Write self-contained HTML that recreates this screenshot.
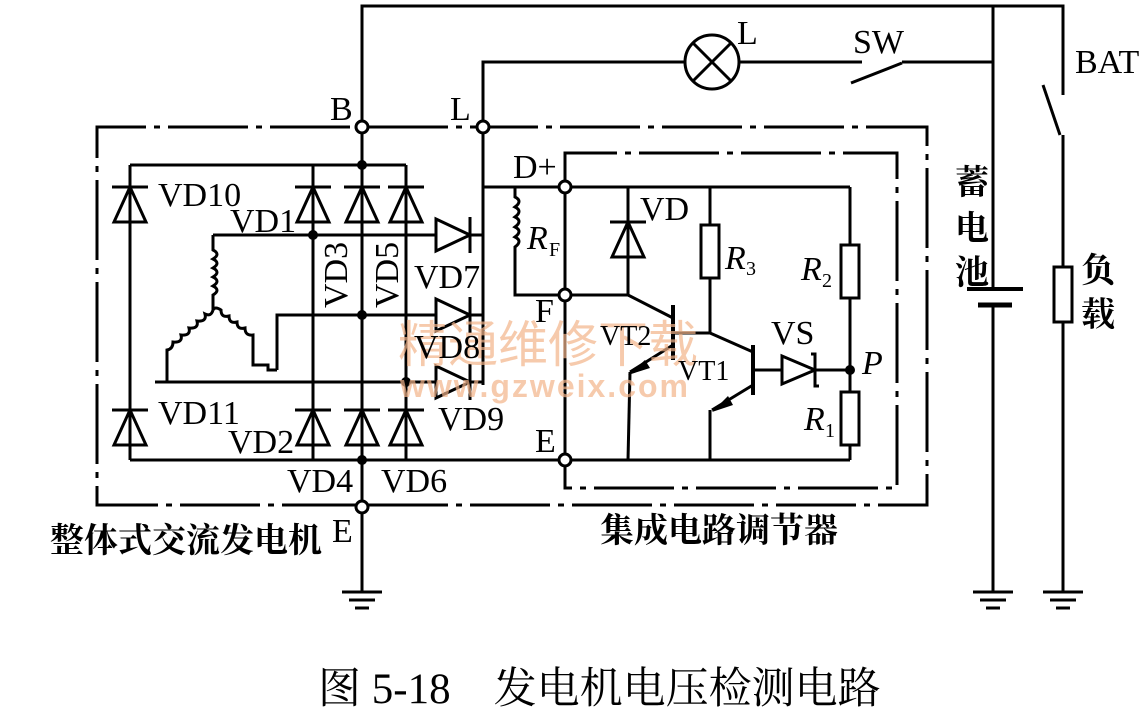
<!DOCTYPE html>
<html><head><meta charset="utf-8"><style>
html,body{margin:0;padding:0;background:#fff}
svg{display:block}
text{font-family:"Liberation Serif","Noto Serif CJK SC",serif;fill:#000}
.cj{font-family:"Liberation Sans","Noto Sans CJK SC",sans-serif;font-weight:bold}
</style></head><body>
<svg width="1139" height="715" viewBox="0 0 1139 715" xmlns="http://www.w3.org/2000/svg">
<defs>
<g id="du" fill="none" stroke="#000" stroke-width="3"><line x1="-18" y1="0" x2="18" y2="0"/><polygon points="0,0 -16,35 16,35"/></g>
<g id="dr" fill="none" stroke="#000" stroke-width="3"><line x1="0" y1="-18" x2="0" y2="18"/><polygon points="0,0 -34,-16 -34,16"/></g>
</defs>
<g fill="none" stroke="#000" stroke-width="3">
<polyline points="362,127 362,6 1063,6 1063,95"/>
<line x1="993" y1="6" x2="993" y2="289"/>
<line x1="993" y1="305" x2="993" y2="592"/>
<line x1="1043" y1="85" x2="1060" y2="135"/>
<line x1="1063" y1="135" x2="1063" y2="267"/>
<rect x="1054" y="267" width="18" height="55"/>
<line x1="1063" y1="322" x2="1063" y2="592"/>
<line x1="967" y1="289" x2="1023" y2="289" stroke-width="4"/>
<line x1="978" y1="305" x2="1012" y2="305" stroke-width="5"/>
<polyline points="483,127 483,62 685,62"/>
<circle cx="712" cy="62" r="27"/>
<line x1="693" y1="43" x2="731" y2="81"/><line x1="731" y1="43" x2="693" y2="81"/>
<line x1="739" y1="62" x2="862" y2="62"/>
<line x1="851" y1="83" x2="902" y2="63"/>
<line x1="902" y1="62" x2="993" y2="62"/>
<line x1="973" y1="592" x2="1013" y2="592"/><line x1="980" y1="600" x2="1006" y2="600"/><line x1="986" y1="608" x2="1000" y2="608"/>
<line x1="1043" y1="592" x2="1083" y2="592"/><line x1="1050" y1="600" x2="1076" y2="600"/><line x1="1056" y1="608" x2="1070" y2="608"/>
<line x1="342" y1="592" x2="382" y2="592"/><line x1="349" y1="600" x2="375" y2="600"/><line x1="355" y1="608" x2="369" y2="608"/>
<line x1="362" y1="513" x2="362" y2="592"/>
<g stroke-dasharray="80,8,6,8">
<polyline points="350,127 97,127 97,505 356,505"/>
<polyline points="368,505 927,505 927,127 489,127"/>
<line x1="368" y1="127" x2="477" y2="127"/>
<polyline points="565,181 565,153 897,153 897,488 565,488 565,466"/>
</g>
<line x1="130" y1="165" x2="406" y2="165"/>
<line x1="130" y1="460" x2="559" y2="460"/>
<line x1="362" y1="133" x2="362" y2="501"/>
<line x1="130" y1="165" x2="130" y2="460"/>
<line x1="313" y1="165" x2="313" y2="460"/>
<line x1="406" y1="165" x2="406" y2="460"/>
<polyline points="213,235 435,235"/><line x1="470" y1="235" x2="483" y2="235"/>
<polyline points="277,370 277,315 435,315"/><line x1="470" y1="315" x2="483" y2="315"/>
<polyline points="155,382 435,382"/><line x1="470" y1="382" x2="483" y2="382"/>
<line x1="483" y1="133" x2="483" y2="385"/>
<line x1="483" y1="187" x2="559" y2="187"/>
<path d="M213,235 V250 q8,4 0,9 q8,4 0,9 q8,4 0,9 q8,4 0,9 q8,4 0,9 V310"/>
<path d="M213,310 q-2,7 -8,4 q2,8 -8,7 q2,8 -8,7 q2,8 -8,7 q2,8 -8,7 q0,7 -6,8 V382"/>
<path d="M213,310 q2,-4 8,0 q0,8 8,6 q0,8 8,6 q0,8 8,6 q0,8 8,7 V365 H268 V370 H277"/>
<line x1="565" y1="193" x2="565" y2="289"/><line x1="565" y1="301" x2="565" y2="454"/>
<line x1="571" y1="187" x2="850" y2="187"/>
<path d="M515,187 V197 q8,4 0,10 q8,4 0,10 q8,4 0,10 q8,4 0,10 q8,4 0,10 V295 H559"/>
<line x1="571" y1="295" x2="628" y2="295"/>
<line x1="628" y1="187" x2="628" y2="295"/>
<line x1="710" y1="187" x2="710" y2="225"/><rect x="701" y="225" width="18" height="53"/>
<line x1="710" y1="278" x2="710" y2="333"/>
<line x1="850" y1="187" x2="850" y2="245"/><rect x="841" y="245" width="18" height="53"/>
<line x1="850" y1="298" x2="850" y2="392"/><rect x="841" y="392" width="18" height="53"/>
<line x1="850" y1="445" x2="850" y2="460"/>
<line x1="571" y1="460" x2="850" y2="460"/>
<line x1="673" y1="305" x2="673" y2="360" stroke-width="4"/>
<line x1="628" y1="295" x2="673" y2="318"/>
<line x1="673" y1="345" x2="630" y2="372"/>
<line x1="630" y1="372" x2="628" y2="460"/>
<line x1="673" y1="333" x2="710" y2="333"/>
<line x1="710" y1="333" x2="753" y2="352"/>
<line x1="753" y1="345" x2="753" y2="395" stroke-width="4"/>
<line x1="753" y1="385" x2="712" y2="410"/>
<line x1="710" y1="410" x2="710" y2="460"/>
<line x1="753" y1="370" x2="782" y2="370"/>
<line x1="815" y1="370" x2="850" y2="370"/>
<polyline points="811,354 815,354 815,386 819,386"/>
<polygon points="782,356 815,370 782,384"/>
</g>
<use href="#du" x="130" y="187"/><use href="#du" x="313" y="187"/><use href="#du" x="362" y="187"/><use href="#du" x="406" y="187"/>
<use href="#du" x="130" y="410"/><use href="#du" x="313" y="410"/><use href="#du" x="362" y="410"/><use href="#du" x="406" y="410"/>
<use href="#du" x="628" y="222"/>
<use href="#dr" x="470" y="235"/><use href="#dr" x="470" y="315"/><use href="#dr" x="470" y="382"/>
<g fill="#000">
<polygon points="628,375 645,360 650,368"/>
<polygon points="712,412 728,396 733,405"/>
<circle cx="362" cy="165" r="5"/><circle cx="313" cy="235" r="5"/><circle cx="362" cy="315" r="5"/>
<circle cx="406" cy="382" r="5"/><circle cx="362" cy="460" r="5"/><circle cx="850" cy="370" r="5"/>
</g>
<g fill="#fff" stroke="#000" stroke-width="3">
<circle cx="362" cy="127" r="6"/><circle cx="483" cy="127" r="6"/><circle cx="362" cy="507" r="6"/>
<circle cx="565" cy="187" r="6"/><circle cx="565" cy="295" r="6"/><circle cx="565" cy="460" r="6"/>
</g>
<text x="398" y="362" font-size="50" class="cj" style="fill:#f3b48a;opacity:.7;font-weight:normal">精通维修下载</text>
<text x="400" y="397" font-size="32" style="fill:#f3b48a;opacity:.7;font-family:'Liberation Sans',sans-serif;font-weight:bold;letter-spacing:2px">www.gzweix.com</text>
<g font-size="34">
<text x="330" y="120">B</text><text x="450" y="120">L</text>
<text x="737" y="44">L</text><text x="853" y="53">SW</text><text x="1075" y="73">BAT</text>
<text x="158" y="206">VD10</text><text x="230" y="232">VD1</text>
<text x="158" y="424">VD11</text><text x="228" y="453">VD2</text>
<text x="287" y="492">VD4</text><text x="381" y="492">VD6</text>
<text x="414" y="288">VD7</text><text x="414" y="358">VD8</text><text x="438" y="430">VD9</text>
<text transform="translate(347,308) rotate(-90)">VD3</text>
<text transform="translate(398,308) rotate(-90)">VD5</text>
<text x="513" y="178">D+</text><text x="640" y="220">VD</text>
<text x="527" y="249" font-style="italic">R</text><text x="549" y="256" font-size="20">F</text>
<text x="725" y="269" font-style="italic">R</text><text x="746" y="275" font-size="20">3</text>
<text x="801" y="280" font-style="italic">R</text><text x="822" y="287" font-size="20">2</text>
<text x="804" y="430" font-style="italic">R</text><text x="825" y="437" font-size="20">1</text>
<text x="862" y="374" font-style="italic">P</text>
<text x="535" y="322">F</text><text x="535" y="452">E</text>
<text x="771" y="344">VS</text>
<text x="600" y="345" font-size="28">VT2</text><text x="678" y="380" font-size="28">VT1</text>
<text x="332" y="542">E</text>
</g>
<g class="cj" font-size="34">
<text x="50" y="552">整体式交流发电机</text>
<text x="600" y="542">集成电路调节器</text>
<text x="955" y="194">蓄</text><text x="955" y="240">电</text><text x="955" y="284">池</text>
<text x="1081" y="282">负</text><text x="1081" y="326">载</text>
</g>
<text x="318" y="703" font-size="43">图 5-18　发电机电压检测电路</text>
</svg>
</body></html>
